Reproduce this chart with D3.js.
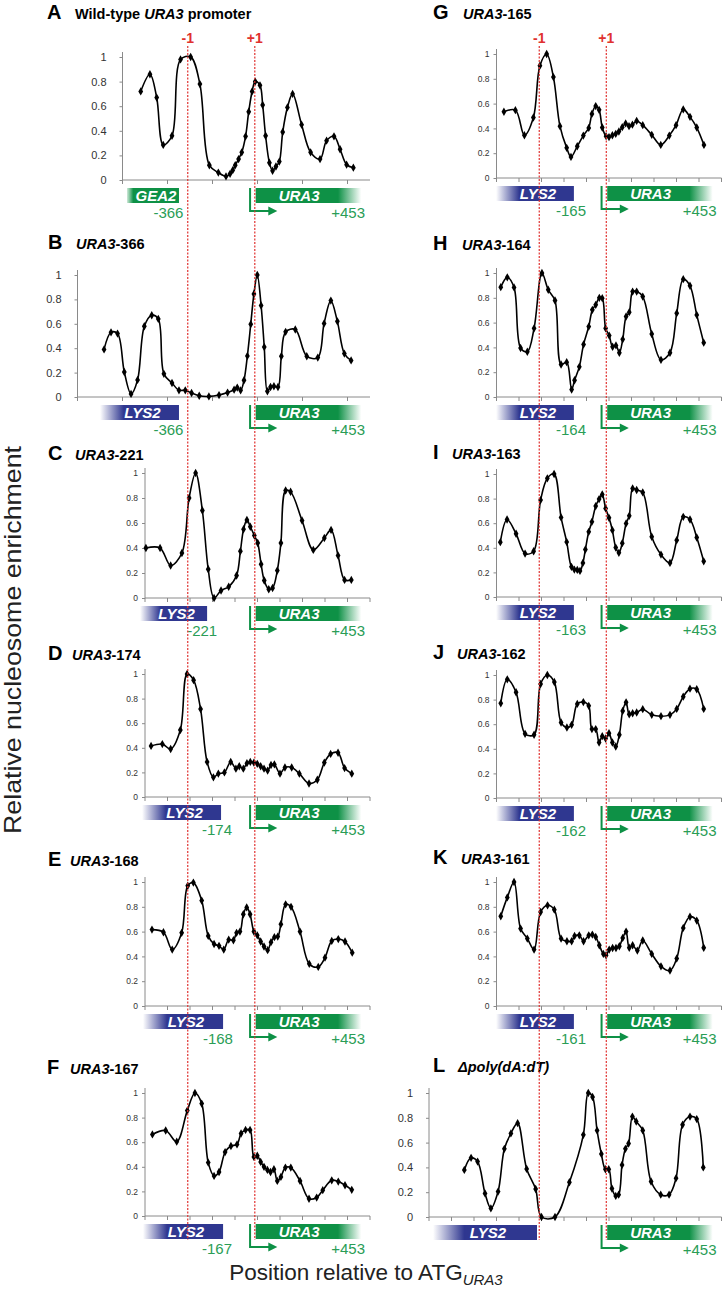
<!DOCTYPE html>
<html>
<head>
<meta charset="utf-8">
<script src="https://d3js.org/d3.v7.min.js"></script>
<style>
html,body{margin:0;padding:0;background:#fff;}
svg{display:block;}
text{font-family:"Liberation Sans",Arial,Helvetica,sans-serif;}
</style>
</head>
<body>
<svg id="chart" width="725" height="1299"></svg>
<script>
// ---------------- data ----------------
const tickValues = [0, 0.2, 0.4, 0.6, 0.8, 1];
const tickLabels = ["0", "0.2", "0.4", "0.6", "0.8", "1"];
const markerLabels = ["-1", "+1"];
const markerPositions = [-310, -12];

const xA = [-519,-478,-448,-419,-380,-342,-297,-256,-214,-174,-140,-122,-110,-99,-84,-70,-53,-39,-24,-10,11,23,36,53,67,82,97,112,133,156,196,236,278,307,340,367,396,426];
const yA = [0.72,0.86,0.67,0.285,0.36,0.98,1.0,0.78,0.12,0.06,0.03,0.05,0.08,0.12,0.17,0.225,0.355,0.555,0.72,0.80,0.77,0.61,0.36,0.14,0.075,0.11,0.15,0.39,0.59,0.70,0.45,0.225,0.17,0.32,0.355,0.25,0.125,0.10];

const xB = [-682,-651,-622,-592,-562,-533,-503,-470,-441,-416,-380,-349,-321,-293,-259,-216,-171,-133,-104,-90,-75,-60,-45,-30,-16,-1,16,30,44,58,73,91,106,125,168,219,268,296,326,355,386,416];
const yB = [0.39,0.53,0.52,0.205,0.025,0.14,0.58,0.67,0.64,0.19,0.115,0.055,0.055,0.033,0.01,0.005,0.016,0.036,0.06,0.077,0.055,0.137,0.337,0.597,0.844,1.0,0.75,0.41,0.047,0.082,0.088,0.082,0.334,0.534,0.553,0.334,0.323,0.603,0.79,0.62,0.356,0.30];

const xC = [-496,-433,-386,-336,-304,-275,-245,-219,-193,-162,-128,-93,-76,-62,-47,-32,-14,1,16,30,50,67,88,104,125,147,198,248,297,327,358,387,417];
const yC = [0.40,0.40,0.26,0.36,0.80,1.0,0.70,0.23,0.0,0.06,0.09,0.18,0.375,0.55,0.625,0.57,0.50,0.44,0.27,0.14,0.07,0.08,0.22,0.44,0.86,0.85,0.62,0.385,0.48,0.545,0.34,0.145,0.145];

const xD = [-473,-423,-386,-343,-313,-284,-253,-224,-196,-174,-147,-119,-96,-81,-63,-47,-32,-16,-1,14,29,45,60,75,100,122,152,186,229,266,297,325,358,387,419];
const yD = [0.415,0.43,0.39,0.545,1.0,0.95,0.715,0.285,0.16,0.19,0.20,0.285,0.23,0.25,0.23,0.275,0.285,0.28,0.27,0.25,0.23,0.215,0.26,0.265,0.19,0.24,0.24,0.19,0.11,0.14,0.28,0.35,0.36,0.235,0.19];

const xE = [-469,-418,-379,-337,-310,-285,-248,-219,-193,-171,-150,-128,-107,-93,-78,-63,-48,-33,-16,-1,14,29,45,60,75,90,104,125,149,189,230,270,300,330,359,389,421];
const yE = [0.616,0.595,0.455,0.59,0.97,0.995,0.85,0.565,0.50,0.485,0.455,0.535,0.53,0.59,0.60,0.74,0.795,0.74,0.60,0.57,0.52,0.48,0.45,0.515,0.555,0.56,0.66,0.82,0.80,0.60,0.34,0.315,0.39,0.525,0.54,0.52,0.43];

const xF = [-467,-408,-359,-312,-278,-248,-219,-193,-171,-144,-118,-91,-73,-53,-33,-16,-1,14,29,44,58,73,88,104,124,148,189,229,263,290,330,359,389,419];
const yF = [0.663,0.695,0.604,0.857,1.0,0.914,0.434,0.326,0.358,0.52,0.569,0.582,0.671,0.70,0.70,0.48,0.49,0.44,0.40,0.375,0.358,0.38,0.285,0.318,0.394,0.394,0.285,0.14,0.15,0.21,0.29,0.28,0.25,0.213];

const xG = [-467,-416,-376,-336,-307,-277,-247,-218,-188,-169,-141,-114,-90,-76,-59,-44,-30,-13,0,15,30,44,59,74,89,104,123,150,190,230,268,298,330,360,390,422];
const yG = [0.534,0.547,0.345,0.488,0.906,1.0,0.814,0.418,0.243,0.17,0.256,0.342,0.404,0.517,0.58,0.55,0.407,0.337,0.33,0.345,0.356,0.375,0.41,0.44,0.418,0.43,0.46,0.426,0.348,0.267,0.342,0.426,0.553,0.493,0.407,0.267];

const xH = [-481,-452,-422,-393,-363,-333,-298,-270,-240,-213,-188,-166,-153,-132,-113,-90,-74,-59,-43,-30,-15,1,16,31,46,61,76,90,105,123,150,190,231,271,301,330,360,390,421];
const yH = [0.886,0.965,0.884,0.395,0.365,0.554,1.0,0.865,0.778,0.262,0.281,0.06,0.135,0.243,0.424,0.568,0.703,0.743,0.80,0.797,0.554,0.495,0.405,0.416,0.357,0.465,0.649,0.684,0.85,0.85,0.81,0.508,0.30,0.357,0.676,0.95,0.897,0.662,0.438];

const xI = [-483,-453,-413,-373,-335,-304,-274,-244,-213,-188,-167,-154,-141,-129,-116,-105,-90,-76,-59,-44,-30,-15,0,15,30,44,59,76,90,105,123,150,190,231,271,301,330,360,390,421];
const yI = [0.446,0.63,0.514,0.353,0.372,0.788,0.965,1.0,0.647,0.448,0.245,0.223,0.22,0.212,0.277,0.386,0.53,0.611,0.739,0.796,0.834,0.72,0.644,0.543,0.402,0.359,0.438,0.598,0.66,0.883,0.87,0.85,0.49,0.345,0.277,0.462,0.652,0.63,0.484,0.29];

const xJ = [-481,-452,-413,-373,-333,-304,-274,-243,-213,-187,-166,-141,-114,-90,-76,-59,-44,-30,-15,0,15,30,46,61,76,90,105,123,150,190,231,271,301,330,360,390,421];
const yJ = [0.77,0.965,0.86,0.522,0.514,0.927,1.0,0.943,0.614,0.573,0.595,0.765,0.78,0.749,0.56,0.56,0.451,0.503,0.484,0.527,0.451,0.419,0.514,0.708,0.778,0.681,0.689,0.695,0.722,0.676,0.665,0.676,0.724,0.824,0.889,0.884,0.724];

const xK = [-481,-452,-422,-393,-363,-333,-304,-273,-243,-213,-187,-166,-153,-132,-113,-90,-74,-59,-43,-25,-13,1,16,31,46,61,76,90,105,126,150,190,231,271,301,330,360,390,421];
const yK = [0.724,0.876,1.0,0.624,0.544,0.455,0.758,0.812,0.777,0.544,0.522,0.522,0.565,0.57,0.522,0.57,0.576,0.557,0.49,0.42,0.409,0.455,0.468,0.468,0.482,0.549,0.60,0.47,0.49,0.447,0.528,0.42,0.32,0.286,0.383,0.63,0.72,0.689,0.47];

const xL = [-643,-613,-584,-551,-525,-493,-465,-436,-406,-366,-326,-300,-240,-176,-114,-92,-73,-53,-34,-16,-1,13,30,43,58,73,87,104,121,150,187,230,267,298,327,360,390,419];
const yL = [0.38,0.477,0.447,0.19,0.07,0.205,0.55,0.674,0.757,0.388,0.226,0.0,0.0,0.28,0.663,1.0,0.968,0.698,0.509,0.385,0.385,0.23,0.17,0.18,0.42,0.55,0.593,0.81,0.77,0.698,0.286,0.18,0.18,0.313,0.744,0.81,0.79,0.40];

// ---------------- layout & style ----------------
const GREEN = "#0e9146", GREEN_TXT = "#2a9d56", NAVY = "#2f3790", RED = "#e0312f", AXIS = "#8a8a8a";
const colZero = [257.5, 609];
const bpPx = 0.225;
const xScale = colZero.map(z => d3.scaleLinear().domain([-800, 500]).range([z - 800 * bpPx, z + 500 * bpPx]));

const panels = [
  {id:"A", col:0, xs:xA, ys:yA, y0:180, y1:57, xStart:-600, step:200, big:true, titleY:19, letterX:47, textX:75,
   title:[["Wild-type ",false],["URA3",true],[" promoter",false]], bar:{name:"GEA2", from:-580, to:-349, color:GREEN, fade:"gea"}, label:"-366", labelEnd:-329},
  {id:"B", col:0, xs:xB, ys:yB, y0:397, y1:275, xStart:-800, step:200, big:true, titleY:249, letterX:48, textX:76,
   title:[["URA3",true],["-366",false]], bar:{name:"LYS2", from:-700, to:-349, color:NAVY}, label:"-366", labelEnd:-329},
  {id:"C", col:0, xs:xC, ys:yC, y0:598, y1:473, xStart:-500, step:100, big:false, titleY:460, letterX:48, textX:75,
   title:[["URA3",true],["-221",false]], bar:{name:"LYS2", from:-522, to:-224, color:NAVY}, label:"-221", labelEnd:-179},
  {id:"D", col:0, xs:xD, ys:yD, y0:797, y1:674, xStart:-500, step:100, big:false, titleY:660, letterX:48, textX:72,
   title:[["URA3",true],["-174",false]], bar:{name:"LYS2", from:-513, to:-162, color:NAVY}, label:"-174", labelEnd:-113},
  {id:"E", col:0, xs:xE, ys:yE, y0:1006, y1:882, xStart:-500, step:100, big:false, titleY:866, letterX:48, textX:70,
   title:[["URA3",true],["-168",false]], bar:{name:"LYS2", from:-509, to:-153, color:NAVY}, label:"-168", labelEnd:-109},
  {id:"F", col:0, xs:xF, ys:yF, y0:1216, y1:1093, xStart:-500, step:100, big:false, titleY:1074, letterX:47, textX:70,
   title:[["URA3",true],["-167",false]], bar:{name:"LYS2", from:-509, to:-153, color:NAVY}, label:"-167", labelEnd:-113},
  {id:"G", col:1, xs:xG, ys:yG, y0:178, y1:54, xStart:-500, step:100, big:false, titleY:19, letterX:433, textX:463,
   title:[["URA3",true],["-165",false]], bar:{name:"LYS2", from:-502, to:-156, color:NAVY}, label:"-165", labelEnd:-102},
  {id:"H", col:1, xs:xH, ys:yH, y0:397, y1:273, xStart:-500, step:100, big:false, titleY:250, letterX:433, textX:462,
   title:[["URA3",true],["-164",false]], bar:{name:"LYS2", from:-502, to:-156, color:NAVY}, label:"-164", labelEnd:-102},
  {id:"I", col:1, xs:xI, ys:yI, y0:597, y1:474, xStart:-500, step:100, big:false, titleY:459, letterX:433, textX:452,
   title:[["URA3",true],["-163",false]], bar:{name:"LYS2", from:-502, to:-156, color:NAVY}, label:"-163", labelEnd:-102},
  {id:"J", col:1, xs:xJ, ys:yJ, y0:798, y1:675, xStart:-500, step:100, big:false, titleY:659, letterX:433, textX:457,
   title:[["URA3",true],["-162",false]], bar:{name:"LYS2", from:-502, to:-156, color:NAVY}, label:"-162", labelEnd:-102},
  {id:"K", col:1, xs:xK, ys:yK, y0:1006, y1:882, xStart:-500, step:100, big:false, titleY:864, letterX:433, textX:461,
   title:[["URA3",true],["-161",false]], bar:{name:"LYS2", from:-502, to:-156, color:NAVY}, label:"-161", labelEnd:-102},
  {id:"L", col:1, xs:xL, ys:yL, y0:1217, y1:1093, xStart:-800, step:100, big:true, titleY:1072, letterX:433, textX:458,
   title:[["\u0394poly(dA:dT)",true]], bar:{name:"LYS2", from:-782, to:-320, color:NAVY}, label:null, labelEnd:0}
];

const svg = d3.select("#chart");
const defs = svg.append("defs");

function grad(id, stops) {
  const g = defs.append("linearGradient").attr("id", id).attr("x1", "0").attr("x2", "1").attr("y1", "0").attr("y2", "0");
  stops.forEach(s => g.append("stop").attr("offset", s[0]).attr("stop-color", s[1]));
}
grad("gNavy", [[0, "#ffffff"], [0.3, NAVY], [1, NAVY]]);
grad("gUra", [[0, GREEN], [0.78, GREEN], [1, "#ffffff"]]);
grad("gGea", [[0, "#cfe9d9"], [0.12, GREEN], [1, GREEN]]);

panels.forEach(p => {
  const x = xScale[p.col];
  const y = d3.scaleLinear().domain([0, 1]).range([p.y0, p.y1]);
  const g = svg.append("g");
  const xl = x(p.xStart);
  const xr = x(500);

  // x axis
  g.append("line").attr("x1", xl).attr("x2", xr).attr("y1", p.y0).attr("y2", p.y0)
    .attr("stroke", AXIS).attr("stroke-width", 1);
  const xt = d3.range(p.xStart, 501, p.step);
  g.selectAll(null).data(xt).enter().append("line")
    .attr("x1", d => x(d)).attr("x2", d => x(d)).attr("y1", p.y0).attr("y2", p.y0 + 4)
    .attr("stroke", AXIS);

  // y axis
  g.append("line").attr("x1", xl).attr("x2", xl).attr("y1", p.y0).attr("y2", p.y1 - 5)
    .attr("stroke", AXIS);
  const ya = d3.axisLeft(y).tickValues(tickValues).tickFormat((d, i) => tickLabels[i]).tickSize(3).tickPadding(p.big ? 13 : 4);
  const yg = g.append("g").attr("transform", `translate(${xl},0)`).call(ya);
  yg.select(".domain").remove();
  yg.selectAll(".tick line").attr("stroke", AXIS);
  yg.selectAll(".tick text").attr("fill", "#333").style("font-size", p.big ? "11px" : "8.5px")
    .style("font-family", "'Liberation Sans',Arial,sans-serif");

  // curve
  const pts = p.xs.map((v, i) => [v, p.ys[i]]);
  const line = d3.line().x(d => x(d[0])).y(d => y(d[1])).curve(d3.curveCatmullRom.alpha(0.5));
  g.append("path").attr("d", line(pts)).attr("fill", "none").attr("stroke", "#000").attr("stroke-width", 1.6);
  const sym = d3.symbol().type(d3.symbolDiamond).size(20);
  g.selectAll(null).data(pts).enter().append("path")
    .attr("d", sym).attr("transform", d => `translate(${x(d[0])},${y(d[1])})`).attr("fill", "#000");

  // gene bars
  const bt = p.y0 + 8, bh = 15;
  const b = p.bar;
  g.append("rect").attr("x", x(b.from)).attr("y", bt).attr("width", x(b.to) - x(b.from)).attr("height", bh)
    .attr("fill", b.fade === "gea" ? "url(#gGea)" : "url(#gNavy)");
  g.append("text").attr("x", (x(b.from) + x(b.to)) / 2 + 3).attr("y", bt + bh / 2 + 5.5).attr("text-anchor", "middle")
    .attr("fill", "#fff").style("font-size", "15px").style("font-weight", "bold").style("font-style", "italic").text(b.name);

  g.append("rect").attr("x", x(-8)).attr("y", bt).attr("width", x(461) - x(-8)).attr("height", bh).attr("fill", "url(#gUra)");
  g.append("text").attr("x", x(185)).attr("y", bt + bh / 2 + 5.5).attr("text-anchor", "middle")
    .attr("fill", "#fff").style("font-size", "15px").style("font-weight", "bold").style("font-style", "italic").text("URA3");

  // TSS bracket arrow
  const ax = x(-33), ay = p.y0 + 31, tip = x(88);
  g.append("path").attr("d", `M${ax},${bt}V${ay}H${tip - 6}`).attr("fill", "none").attr("stroke", GREEN).attr("stroke-width", 2);
  g.append("path").attr("d", `M${tip - 9},${ay - 4.5}L${tip},${ay}L${tip - 9},${ay + 4.5}Z`).attr("fill", GREEN);

  // labels
  if (p.label) {
    g.append("text").attr("x", x(p.labelEnd)).attr("y", p.y0 + 38).attr("text-anchor", "end")
      .attr("fill", GREEN_TXT).style("font-size", "15px").text(p.label);
  }
  g.append("text").attr("x", x(478)).attr("y", p.y0 + 38).attr("text-anchor", "end")
    .attr("fill", GREEN_TXT).style("font-size", "15px").text("+453");

  // titles
  g.append("text").attr("x", p.letterX).attr("y", p.titleY).style("font-size", "20px").style("font-weight", "bold").text(p.id);
  const t = g.append("text").attr("x", p.textX).attr("y", p.titleY).style("font-size", "14.5px").style("font-weight", "bold");
  p.title.forEach(s => t.append("tspan").style("font-style", s[1] ? "italic" : "normal").text(s[0]));
});

// red dotted reference lines
[0, 1].forEach(c => {
  const x = xScale[c];
  markerPositions.forEach((m, i) => {
    svg.append("line").attr("x1", x(m)).attr("x2", x(m)).attr("y1", 46).attr("y2", 1240)
      .attr("stroke", RED).attr("stroke-width", 1.2).attr("stroke-dasharray", "2,1.5");
    svg.append("text").attr("x", x(m)).attr("y", 43).attr("text-anchor", "middle").attr("fill", RED)
      .style("font-size", "14px").style("font-weight", "bold").text(markerLabels[i]);
  });
});

// axis titles
svg.append("text").attr("transform", "translate(21,640) rotate(-90)").attr("text-anchor", "middle")
  .style("font-size", "24px").attr("fill", "#222")
  .attr("textLength", 388).attr("lengthAdjust", "spacingAndGlyphs")
  .text("Relative nucleosome enrichment");
const bl = svg.append("text").attr("x", 366).attr("y", 1280).attr("text-anchor", "middle").style("font-size", "22.5px").attr("fill", "#222");
bl.append("tspan").text("Position relative to ATG");
bl.append("tspan").attr("dy", 5).style("font-size", "15px").style("font-style", "italic").text("URA3");
</script>
</body>
</html>
